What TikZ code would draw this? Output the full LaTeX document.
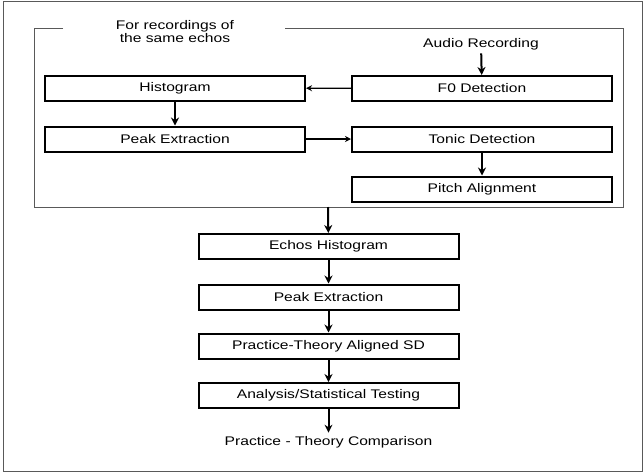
\documentclass[tikz,border=0pt]{standalone}
\usepackage{fontspec}
\setmainfont[FakeStretch=1.25]{Liberation Sans}
\usetikzlibrary{arrows.meta}

\begin{document}
\begin{tikzpicture}[x=1pt, y=-1pt,
    block/.style={draw, line width=2pt, minimum width=260pt, minimum height=25pt, inner sep=0pt},
    flow/.style={-{Stealth[length=8pt,width=8pt]}, line width=2pt},
    side/.style={-{Stealth[length=6pt,width=6pt]}, line width=1.2pt},
    frame/.style={draw=black!65, line width=1pt}]
\tikzset{every node/.style={font=\fontsize{12.5}{13.5}\selectfont, align=center}}
\useasboundingbox (0,0) rectangle (643,475);
\draw[frame] (3,1.5) rectangle (642.5,471.5);
% group of steps done per recording
\draw[frame] (63,28) -- (34,28) -- (34,207) -- (623,207) -- (623,28) -- (285,28);
\node (title) at (175,31.5) {For recordings of\\the same echos};
\node (audio) at (481,44) {Audio Recording};
\coordinate (gout) at (328,207);
\node[block] (hist) at (175,88) {Histogram};
\node[block] (peak) at (175,139) {Peak Extraction};
\node[block] (f0) at (482,88.5) {F0 Detection};
\node[block] (tonic) at (482,139) {Tonic Detection};
\node[block] (align) at (482,189) {Pitch Alignment};
% steps done per echos
\node[block] (ehist) at (328.5,246.5) {Echos Histogram};
\node[block] (epeak) at (328.5,297) {Peak Extraction};
\node[block] (sd) at (328.5,346) {Practice-Theory Aligned SD};
\node[block] (stat) at (328.5,395.5) {Analysis/Statistical Testing};
\node (comp) at (328.5,442) {Practice - Theory Comparison};

\draw[flow] (audio) -- (f0);
\draw[side] (f0) -- (hist);
\draw[flow] (hist) -- (peak);
\draw[side] (peak) -- (tonic);
\draw[flow] (tonic) -- (align);
\draw[flow] (gout) -- (ehist);
\draw[flow] (ehist) -- (epeak);
\draw[flow] (epeak) -- (sd);
\draw[flow] (sd) -- (stat);
\draw[flow] (stat) -- (comp);
\end{tikzpicture}
\end{document}
